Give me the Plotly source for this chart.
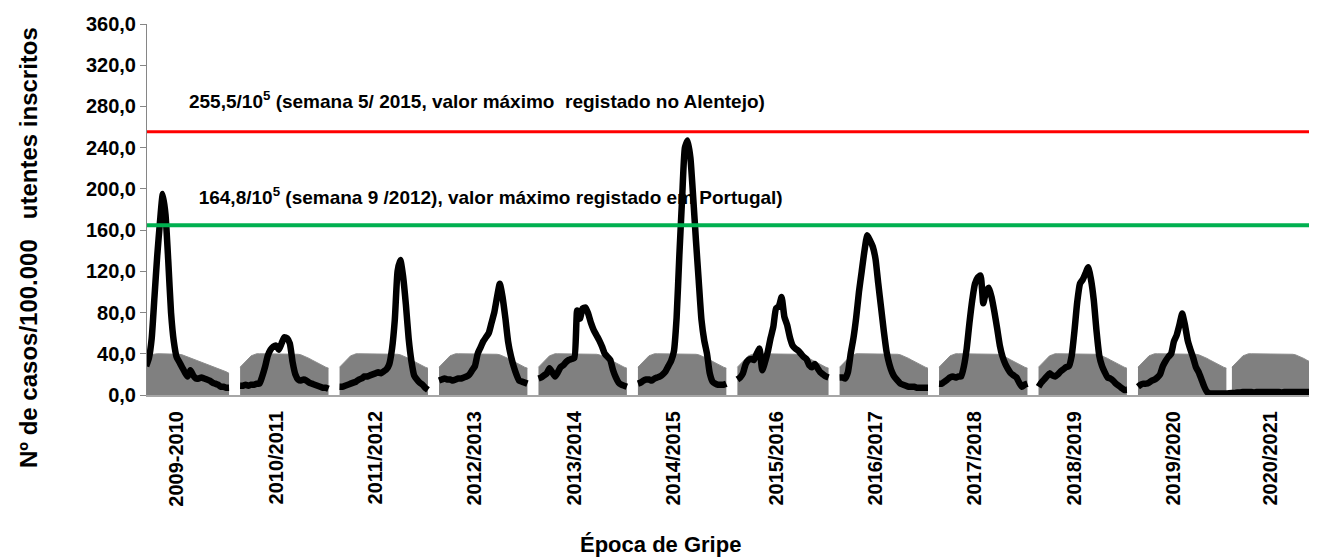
import plotly.graph_objects as go

# ---------------- data ----------------
SEASONS = ["2009-2010", "2010/2011", "2011/2012", "2012/2013", "2013/2014", "2014/2015",
           "2015/2016", "2016/2017", "2017/2018", "2018/2019", "2019/2020", "2020/2021"]
WEEKS_IN_SEASON = [34, 33, 33, 33, 33, 33, 34, 33, 33, 33, 33, 34]

# weekly incidence (per 100 000), from the first visible week of each season
S2009 = [28, 36, 55, 95, 135, 168, 195, 175, 130, 80, 52, 37, 32, 27, 22, 18, 24, 19, 16, 16,
         17, 16, 15, 14, 12, 11, 10, 8, 8, 7, 7]
S2010 = [9, 9, 10, 9, 10, 10, 11, 11, 18, 27, 38, 44, 47, 48, 44, 50, 56, 55, 50, 32,
         20, 15, 14, 15, 14, 12, 11, 10, 9, 8, 7, 7, 6]
S2011 = [8, 8, 9, 10, 11, 12, 13, 15, 16, 18, 18, 19, 20, 21, 22, 21, 23, 25, 30, 45,
         73, 120, 131, 115, 88, 55, 33, 19, 15, 12, 10, 7, 5]
S2012 = [14, 15, 16, 15, 15, 14, 15, 16, 16, 17, 18, 20, 24, 28, 40, 46, 52, 56, 60, 70,
         80, 95, 108, 95, 75, 52, 38, 28, 20, 14, 13, 12, 11]
S2013 = [16, 17, 19, 21, 26, 22, 18, 22, 27, 29, 32, 34, 35, 36, 82, 74, 84, 85, 79, 70,
         63, 58, 53, 47, 40, 37, 34, 24, 17, 12, 10, 9, 8]
S2014 = [11, 12, 14, 15, 15, 14, 16, 17, 18, 20, 23, 28, 33, 42, 75, 136, 191, 240, 247, 230,
         192, 150, 111, 73, 53, 40, 21, 13, 11, 10, 10, 10, 11]
S2015 = [15, 17, 21, 30, 34, 35, 34, 40, 45, 24, 32, 42, 55, 66, 84, 86, 95, 76, 68, 56,
         48, 45, 43, 40, 37, 35, 29, 27, 30, 26, 22, 20, 18, 17]
S2016 = [17, 17, 16, 22, 40, 55, 75, 100, 120, 140, 155, 150, 144, 132, 108, 85, 62, 42, 30, 22,
         17, 14, 11, 10, 9, 8, 8, 8, 7, 7, 7, 7, 7]
S2017 = [11, 11, 13, 15, 17, 18, 17, 18, 18, 28, 45, 70, 92, 108, 114, 116, 89, 100, 104, 95,
         81, 65, 48, 37, 30, 25, 21, 19, 17, 12, 8, 10, 11]
S2018 = [8, 12, 15, 18, 21, 19, 18, 20, 23, 25, 27, 28, 38, 62, 90, 108, 112, 118, 124, 112,
         92, 62, 38, 28, 22, 17, 16, 14, 11, 9, 7, 5, 5]
S2019 = [8, 10, 11, 11, 12, 14, 15, 17, 20, 28, 33, 37, 40, 52, 58, 68, 79, 68, 53, 44,
         36, 27, 22, 15, 8, 3, 1.5, 1.5, 1.5, 1.5, 1.5, 1.5, 1.5]
S2020 = [2, 2, 2.5, 2.5, 3, 3, 3, 3, 2.5, 3, 3, 3, 3, 3, 3, 3, 3, 3, 2.5, 3,
         3, 3, 3, 3, 3, 3, 3, 3, 3, 3, 3, 3]
SERIES = [S2009, S2010, S2011, S2012, S2013, S2014, S2015, S2016, S2017, S2018, S2019, S2020]
FIRST_WEEK = [3, 0, 0, 0, 0, 0, 0, 0, 0, 0, 0, 0]

# baseline activity area (grey)
BASE_2009 = [38.5, 39, 39.5, 40, 40, 40, 40, 40, 40, 40, 40, 40, 39.5, 39, 38, 37, 36, 35, 34, 33,
             32, 31, 30, 29, 28, 27, 26, 25, 24, 22.5, 21]
BASE_52 = [27, 30, 33, 36, 38, 39, 40, 40, 40, 40, 40, 40, 40, 40, 40, 40, 40, 40, 40, 40,
           40, 39.5, 39, 38, 37, 35.5, 34, 32.5, 31, 30, 28.5, 27, 26]
BASE_53 = [27, 30, 33, 36, 38, 39, 40, 40, 40, 40, 40, 40, 40, 40, 40, 40, 40, 40, 40, 40,
           40, 40, 39.5, 39, 38, 37, 35.5, 34, 32.5, 31, 30, 28.5, 27, 26]

MAX_ALENTEJO = 255.5
MAX_PORTUGAL = 164.8
LABEL_ALENTEJO = "255,5/10<sup>5</sup> (semana 5/ 2015, valor máximo  registado no Alentejo)"
LABEL_PORTUGAL = "164,8/10<sup>5</sup> (semana 9 /2012), valor máximo registado em Portugal)"

# ---------------- layout of weeks on the axis ----------------
starts = []
pos = 0
for i, n in enumerate(WEEKS_IN_SEASON):
    starts.append(pos)
    pos += n + (1 if i == len(WEEKS_IN_SEASON) - 2 else 3)
tickvals = [s + n - 20 for s, n in zip(starts, WEEKS_IN_SEASON)]

FONT = "Liberation Sans, Arial, sans-serif"
fig = go.Figure()

# grey baseline areas
for i, s in enumerate(starts):
    if i == 0:
        base, w0 = BASE_2009, 3
    else:
        base, w0 = (BASE_53 if WEEKS_IN_SEASON[i] == 34 else BASE_52), 0
    fig.add_trace(go.Scatter(
        x=[s + w0 + j for j in range(len(base))], y=base, mode="lines",
        fill="tozeroy", fillcolor="#808080",
        line=dict(color="#8c8c8c", width=1), hoverinfo="skip", showlegend=False))

# labels for the reference lines (below the black line)
fig.add_trace(go.Scatter(
    x=[18.5, 22.0], y=[283.5, 189.5], mode="text",
    text=[LABEL_ALENTEJO, LABEL_PORTUGAL], textposition="middle right",
    textfont=dict(family=FONT, size=19, color="#000000", weight="bold"),
    hoverinfo="skip", showlegend=False))

# black incidence line
xs, ys = [], []
for i, (s, vals) in enumerate(zip(starts, SERIES)):
    xs += [s + FIRST_WEEK[i] + j for j in range(len(vals))]
    ys += list(vals)
    if i < len(SERIES) - 2:
        xs.append(None)
        ys.append(None)
fig.add_trace(go.Scatter(x=xs, y=ys, mode="lines",
                         line=dict(color="#000000", width=6.5, shape="spline", smoothing=0.5),
                         connectgaps=False, hoverinfo="skip", showlegend=False))

# reference lines
fig.add_shape(type="line", xref="paper", x0=0, x1=1, yref="y", y0=MAX_ALENTEJO, y1=MAX_ALENTEJO,
              line=dict(color="#FF0000", width=3), layer="above")
fig.add_shape(type="line", xref="paper", x0=0, x1=1, yref="y", y0=MAX_PORTUGAL, y1=MAX_PORTUGAL,
              line=dict(color="#00B050", width=4), layer="above")

fig.update_layout(
    width=1309, height=549,
    margin=dict(l=139, r=0, t=16, b=162),
    paper_bgcolor="white", plot_bgcolor="white",
    separators=",.",
    font=dict(family=FONT, color="#000000"),
    xaxis=dict(range=[3.3, 426.8], tickmode="array", tickvals=tickvals, ticktext=SEASONS,
               tickangle=-90, ticks="", showgrid=False, zeroline=False,
               showline=True, linecolor="#A6A6A6", linewidth=2,
               ticklabelstandoff=6, automargin=False,
               tickfont=dict(family=FONT, size=20, color="#000000", weight="bold")),
    yaxis=dict(range=[0, 360], tick0=0, dtick=40, tickformat=".1f", automargin=False,
               showgrid=False, zeroline=False, showline=True, linecolor="#868686", linewidth=1,
               ticks="outside", ticklen=6, tickcolor="#868686",
               tickfont=dict(family=FONT, size=20, color="#000000", weight="bold")),
    annotations=[
        dict(text="Nº de casos/100.000   utentes inscritos", xref="paper", yref="paper",
             x=-0.1017, y=0.396, xanchor="center", yanchor="middle", textangle=-90,
             showarrow=False,
             font=dict(family=FONT, size=24, color="#000000", weight="bold")),
        dict(text="Época de Gripe", xref="paper", yref="paper", x=0.4385, y=-0.404,
             xanchor="center", yanchor="middle", showarrow=False,
             font=dict(family=FONT, size=22, color="#000000", weight="bold")),
    ],
)

fig.write_html("out.html")
